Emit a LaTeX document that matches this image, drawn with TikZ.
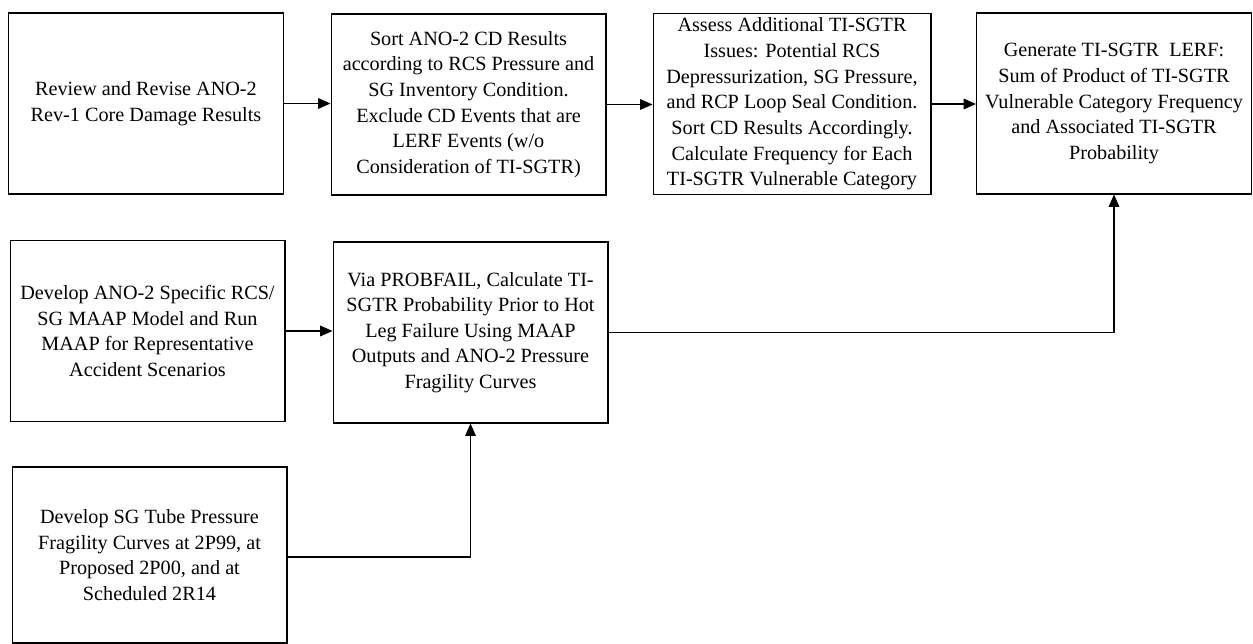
\documentclass[tikz,border=0pt]{standalone}
\usepackage{fontspec}
\setmainfont{Liberation Serif}
\usetikzlibrary{arrows.meta}

\begin{document}
\begin{tikzpicture}[x=0.02cm,y=-0.02cm,>={Triangle[length=7pt,width=6pt]},line width=0.7pt]
    \tikzstyle{task}=[draw=black,fill=white,line width=0.6pt,align=center,inner sep=2pt,
        minimum width=5.5cm,minimum height=3.62cm,font=\fontsize{11.5}{14.6}\selectfont]
    \useasboundingbox (0,0) rectangle (1253,644);

    % top row
    \node[task] (B-1) at (146,103.5) {Review and Revise ANO-2\\Rev-1 Core Damage Results};
    \node[task] (B-2) at (468.5,104.5) {Sort ANO-2 CD Results\\according to RCS Pressure and\\SG Inventory Condition.\\Exclude CD Events that are\\LERF Events (w/o\\Consideration of TI-SGTR)};
    \node[task,minimum width=5.56cm] (B-3) at (792,104) {Assess Additional TI-SGTR\\Issues: Potential RCS\\Depressurization, SG Pressure,\\and RCP Loop Seal Condition.\\Sort CD Results Accordingly.\\Calculate Frequency for Each\\TI-SGTR Vulnerable Category};
    \node[task] (B-4) at (1114,103.5) {Generate TI-SGTR\ \ LERF:\\Sum of Product of TI-SGTR\\Vulnerable Category Frequency\\and Associated TI-SGTR\\Probability};

    % lower boxes
    \node[task] (B-5) at (147.5,331) {Develop ANO-2 Specific RCS/\\SG MAAP Model and Run\\MAAP for Representative\\Accident Scenarios};
    \node[task] (B-6) at (470.5,332.5) {Via PROBFAIL, Calculate TI-\\SGTR Probability Prior to Hot\\Leg Failure Using MAAP\\Outputs and ANO-2 Pressure\\Fragility Curves};
    \node[task,minimum height=3.52cm] (B-7) at (149.5,555) {Develop SG Tube Pressure\\Fragility Curves at 2P99, at\\Proposed 2P00, and at\\Scheduled 2R14};

    \foreach \from/\to in {1/2, 2/3, 3/4, 5/6}
        \draw[->] (B-\from.east) -- (B-\from.east -| B-\to.west);

    \draw[->] (B-6.east) -| (B-4.south);
    \draw[->] ([yshift=-0.04cm]B-7.east) -| (B-6.south);
\end{tikzpicture}
\end{document}
